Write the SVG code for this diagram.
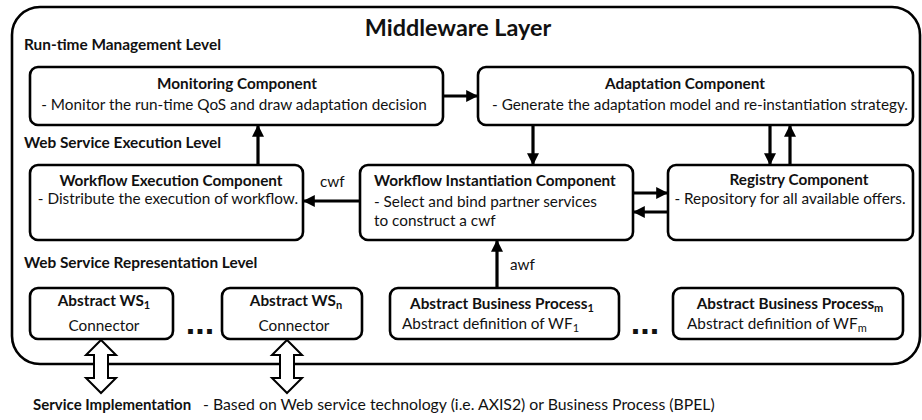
<svg xmlns="http://www.w3.org/2000/svg" width="922" height="420" viewBox="0 0 922 420">
<defs>
<style>
text{font-family:Lato,"Liberation Sans",sans-serif;fill:#111;font-size:15.3px}
.b{font-weight:bold}
.t{font-size:23.4px;font-weight:bold}
.lvl{font-weight:bold;font-size:15.4px}
.box{fill:#fff;stroke:#000;stroke-width:2.6}
.c{stroke:#000;stroke-width:3.2;fill:none}
.dbl{fill:#fff;stroke:#000;stroke-width:2}
.dots{font-family:"Liberation Sans",sans-serif;font-weight:bold;font-size:34px}
.foot{font-size:15.8px}
.footb{font-size:15px;font-weight:bold}
</style>
<marker id="ah" viewBox="0 0 10 10" refX="9" refY="5" markerWidth="12" markerHeight="12" markerUnits="userSpaceOnUse" orient="auto">
<path d="M0,0 L10,5 L0,10 z" fill="#000"/>
</marker>
</defs>
<g id="middleware-layer">
<rect x="12" y="7" width="908" height="357" rx="28" ry="28" fill="#fff" stroke="#000" stroke-width="2.6"/>
<text class="t" x="458" y="36" text-anchor="middle">Middleware Layer</text>
<text class="lvl" x="24" y="50">Run-time Management Level</text>
<text class="lvl" x="24" y="148">Web Service Execution Level</text>
<text class="lvl" x="24" y="268">Web Service Representation Level</text>
</g>
<g id="monitoring">
<rect class="box" x="30" y="67" width="413" height="58" rx="8"/>
<text class="b" x="237" y="89" text-anchor="middle">Monitoring Component</text>
<text x="234" y="110" text-anchor="middle">- Monitor the run-time QoS and draw adaptation decision</text>
</g>
<g id="adaptation">
<rect class="box" x="478" y="67" width="435" height="58" rx="8"/>
<text class="b" x="685" y="89" text-anchor="middle">Adaptation Component</text>
<text x="700" y="110" text-anchor="middle">- Generate the adaptation model and re-instantiation strategy.</text>
</g>
<g id="workflow-execution">
<rect class="box" x="30" y="165" width="273" height="75" rx="8"/>
<text class="b" x="171" y="186" text-anchor="middle">Workflow Execution Component</text>
<text x="168" y="204" text-anchor="middle">- Distribute the execution of workflow.</text>
</g>
<g id="workflow-instantiation">
<rect class="box" x="360" y="165" width="273" height="75" rx="8"/>
<text class="b" x="374" y="186">Workflow Instantiation Component</text>
<text x="374" y="207">- Select and bind partner services</text>
<text x="374" y="226">to construct a cwf</text>
</g>
<g id="registry">
<rect class="box" x="668" y="165" width="245" height="75" rx="8"/>
<text class="b" x="799" y="185" text-anchor="middle">Registry Component</text>
<text x="790" y="204" text-anchor="middle">- Repository for all available offers.</text>
</g>
<g id="abstract-ws1">
<rect class="box" x="30" y="288" width="143" height="51" rx="8"/>
<text class="b" x="104" y="306" text-anchor="middle">Abstract WS<tspan font-size="11" dy="3">1</tspan></text>
<text x="104" y="331" text-anchor="middle">Connector</text>
</g>
<g id="abstract-wsn">
<rect class="box" x="222" y="288" width="140" height="51" rx="8"/>
<text class="b" x="296" y="306" text-anchor="middle">Abstract WS<tspan font-size="11" dy="3">n</tspan></text>
<text x="294" y="331" text-anchor="middle">Connector</text>
</g>
<g id="abstract-bp1">
<rect class="box" x="390" y="288" width="229" height="51" rx="8"/>
<text class="b" x="502" y="309" text-anchor="middle">Abstract Business Process<tspan font-size="11" dy="3">1</tspan></text>
<text x="402" y="329">Abstract definition of WF<tspan font-size="11" dy="3">1</tspan></text>
</g>
<g id="abstract-bpm">
<rect class="box" x="673" y="288" width="230" height="51" rx="8"/>
<text class="b" x="790" y="309" text-anchor="middle">Abstract Business Process<tspan font-size="11" dy="3">m</tspan></text>
<text x="687" y="329">Abstract definition of WF<tspan font-size="11" dy="3">m</tspan></text>
</g>
<g id="ellipses">
<text class="dots" x="200" y="334" text-anchor="middle">...</text>
<text class="dots" x="645" y="334" text-anchor="middle">...</text>
</g>
<g id="connectors">
<line class="c" x1="443" y1="96" x2="477" y2="96" marker-end="url(#ah)"/>
<line class="c" x1="258" y1="165" x2="258" y2="126" marker-end="url(#ah)"/>
<line class="c" x1="533" y1="125" x2="533" y2="164" marker-end="url(#ah)"/>
<line class="c" x1="360" y1="201" x2="304" y2="201" marker-end="url(#ah)"/>
<line class="c" x1="633" y1="193" x2="667" y2="193" marker-end="url(#ah)"/>
<line class="c" x1="668" y1="212" x2="634" y2="212" marker-end="url(#ah)"/>
<line class="c" x1="770" y1="125" x2="770" y2="164" marker-end="url(#ah)"/>
<line class="c" x1="790" y1="165" x2="790" y2="126" marker-end="url(#ah)"/>
<line class="c" x1="497" y1="288" x2="497" y2="241" marker-end="url(#ah)"/>
<text x="320" y="187">cwf</text>
<text x="510" y="270">awf</text>
<polygon class="dbl" points="101,340 116,355 108,355 108,378 116,378 101,393 86,378 94,378 94,355 86,355"/>
<polygon class="dbl" points="287,340 302,355 294,355 294,378 302,378 287,393 272,378 280,378 280,355 272,355"/>
</g>
<g id="service-implementation">
<text class="footb" x="33" y="410">Service Implementation</text>
<text class="foot" x="203" y="410">- Based on Web service technology (i.e. AXIS2) or Business Process (BPEL)</text>
</g>
</svg>
